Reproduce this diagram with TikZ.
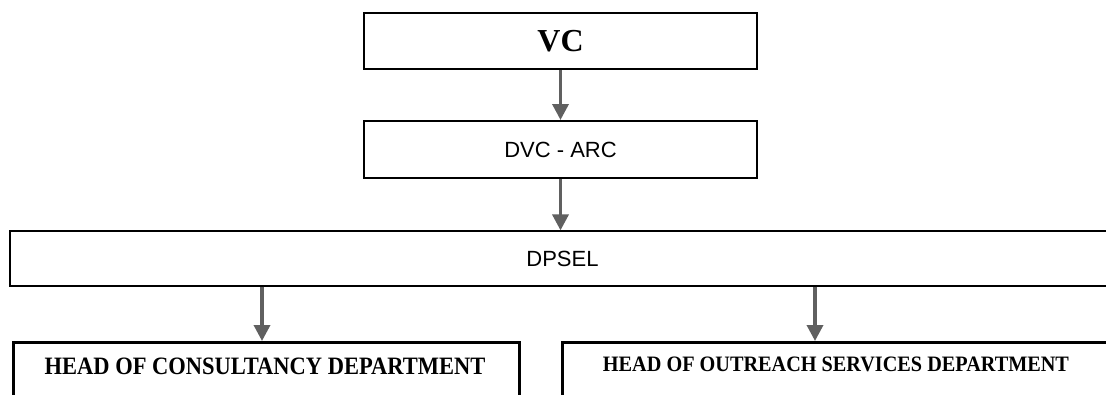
\documentclass[tikz,border=0pt]{standalone}
\usepackage{fontspec}
\setmainfont{Liberation Serif}
\newfontfamily\sansfnt{Liberation Sans}
\usetikzlibrary{arrows.meta}
\definecolor{arrgray}{HTML}{606060}

\begin{document}
\begin{tikzpicture}[x=1pt,y=-1pt,
    topbox/.style={draw,line width=2.5pt,minimum width=393pt,inner sep=0pt},
    deptbox/.style={draw,line width=2.5pt,anchor=north west,inner sep=0pt},
    flow/.style={arrgray,line width=3.5pt,-{Triangle[width=16pt,length=16pt]}}]
  \useasboundingbox (0,0) rectangle (1106,394);
  \clip (0,0) rectangle (1106,394);
  \node[topbox,minimum height=56pt,font=\bfseries\fontsize{32}{34}\selectfont] (vc) at (560.5,41) {VC};
  \node[topbox,line width=2pt,minimum height=57pt,font=\sansfnt\fontsize{22}{24}\selectfont] (dvc) at (560.5,149.5) {DVC - ARC};
  \node[draw,line width=1.2pt,minimum width=1105pt,minimum height=55pt,inner sep=0pt,font=\sansfnt\fontsize{22}{24}\selectfont] (dpsel) at (562.5,258.5) {DPSEL};
  \node[deptbox,minimum width=506pt,minimum height=100pt] (cons) at (12,341) {};
  \node[deptbox,minimum width=580pt,minimum height=100pt] (outr) at (561,341) {};
  \node[xscale=0.9,font=\bfseries\fontsize{25}{27}\selectfont] (constext) at (265,366) {HEAD OF CONSULTANCY DEPARTMENT};
  \node[xscale=0.92,font=\bfseries\fontsize{22}{24}\selectfont] (outrtext) at (836,364.5) {HEAD OF OUTREACH SERVICES DEPARTMENT};
  \coordinate (consin) at (262,341);
  \coordinate (outrin) at (815,341);
  \draw[flow] (vc.south) -- (dvc.north);
  \draw[flow] (dvc.south) -- (dvc.south |- dpsel.north);
  \draw[flow] (dpsel.south -| consin) -- (consin);
  \draw[flow] (dpsel.south -| outrin) -- (outrin);
\end{tikzpicture}
\end{document}
